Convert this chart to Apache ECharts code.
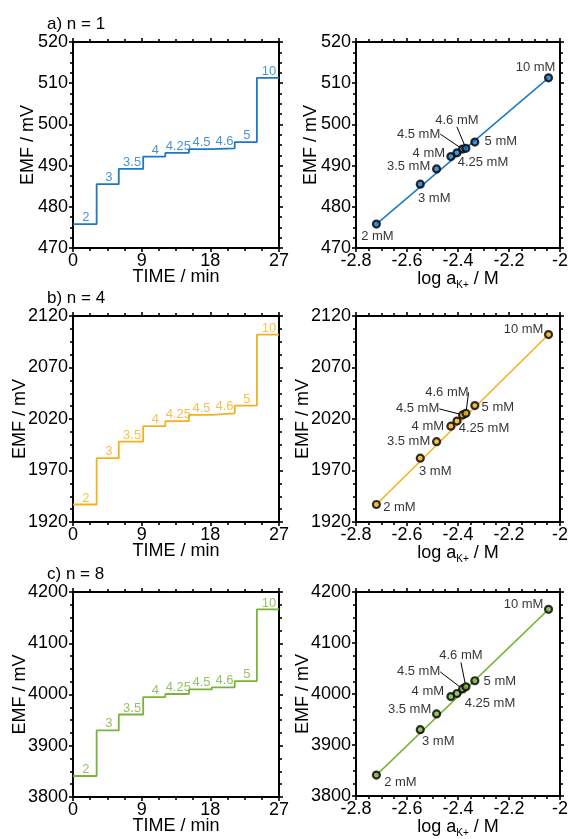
<!DOCTYPE html>
<html><head><meta charset="utf-8">
<script src="https://cdn.jsdelivr.net/npm/echarts@6/dist/echarts.min.js"></script>
<style>html,body{margin:0;padding:0;background:#fff}#c{width:571px;height:839px}</style>
</head><body><div id="c"></div>
<script>
// ---------- data ----------
const concLabels = ['2','3','3.5','4','4.25','4.5','4.6','5','10'];
const stepTimes = [0, 3.1, 6.0, 9.2, 12.1, 15.2, 18.2, 21.2, 24.1, 27];
const logA = [-2.72, -2.548, -2.484, -2.428, -2.404, -2.382, -2.369, -2.334, -2.045];
const emfN1 = [475.8, 485.5, 489.2, 492.2, 493.1, 494.0, 494.2, 495.7, 511.3];
const emfN4 = [1937, 1982, 1998, 2013, 2018, 2024, 2025.5, 2033, 2102];
const emfN8 = [3841, 3930, 3961, 3995, 4001, 4010, 4014, 4026, 4166];
const panelTitles = ['a) n = 1', 'b) n = 4', 'c) n = 8'];
const timeTicks = [0, 9, 18, 27];
const logTicks = [-2.8, -2.6, -2.4, -2.2, -2];
const emfTicksN1 = [470, 480, 490, 500, 510, 520];
const emfTicksN4 = [1920, 1970, 2020, 2070, 2120];
const emfTicksN8 = [3800, 3900, 4000, 4100, 4200];

// ---------- layout / style ----------
const FONT = '"Liberation Sans", Arial, sans-serif';
const colors = ['#1c78c5', '#f3b020', '#7ab33c'];
const TICK = '#000';
const rows = [
  {top: 42, height: 206, emf: emfN1, ticks: emfTicksN1, yNameGap: 36},
  {top: 316, height: 206, emf: emfN4, ticks: emfTicksN4, yNameGap: 44},
  {top: 592, height: 205, emf: emfN8, ticks: emfTicksN8, yNameGap: 44}
];
const labelOffsets = [
  [[1,12],[14,14],[-28,-2],[-22,-3],[26,10],[-44,-15],[-9,-28],[26,-1],[-13,-10]],
  [[23,3],[15,13],[-28,0],[-23,0],[27,7],[-45,-6],[-19,-21],[23,2],[-25,-5]],
  [[24,7],[18,12],[-27,-4],[-23,-5],[33,10],[-44,-17],[-5,-31],[25,1],[-25,-5]]
];

const grids = [], xAxes = [], yAxes = [], series = [], titles = [];

function axisBase(extra) {
  return Object.assign({
    axisLine: {show: true, onZero: false, lineStyle: {color: '#000', width: 2}},
    axisTick: {show: true, inside: false, length: 4, lineStyle: {color: TICK, width: 1.6}},
    minorTick: {show: true, splitNumber: 4, length: 3, lineStyle: {color: TICK, width: 1.6}},
    splitLine: {show: false},
    minorSplitLine: {show: false},
    nameMoveOverlap: false
  }, extra);
}

rows.forEach((r, ri) => {
  const lefts = [73, 356];
  titles.push({text: panelTitles[ri], left: 47, top: r.top - 26, padding: 0,
    textStyle: {fontSize: 17, fontWeight: 'normal', color: '#000', fontFamily: FONT}});
  const yMin = r.ticks[0], yMax = r.ticks[r.ticks.length - 1];
  const yInt = r.ticks[1] - r.ticks[0];
  lefts.forEach((lx, ci) => {
    const gi = grids.length;
    grids.push({left: lx, top: r.top, width: 206, height: r.height});
    const isTime = ci === 0;
    const xt = isTime ? timeTicks : logTicks;
    const xMin = xt[0], xMax = xt[xt.length - 1], xInt = +(xt[1] - xt[0]).toFixed(6);
    const xName = isTime ? 'TIME / min' : '{t|log a}{s|K+}{t| / M}';
    xAxes.push(axisBase({
      type: 'value', gridIndex: gi, position: 'bottom', min: xMin, max: xMax, interval: xInt,
      name: xName, nameLocation: 'middle', nameGap: 20,
      nameTextStyle: {fontSize: 18, color: '#000', fontFamily: FONT,
        rich: {t: {fontSize: 18, color: '#000', fontFamily: FONT},
               s: {fontSize: 10, color: '#000', fontFamily: FONT, padding: [12, 0, 0, 0]}}},
      axisLabel: {show: true, fontSize: 18, color: '#000', fontFamily: FONT, margin: 4,
        formatter: v => String(+v.toFixed(2))}
    }));
    xAxes.push(axisBase({
      type: 'value', gridIndex: gi, position: 'top', min: xMin, max: xMax, interval: xInt,
      axisLabel: {show: false}
    }));
    yAxes.push(axisBase({
      type: 'value', gridIndex: gi, position: 'left', min: yMin, max: yMax, interval: yInt,
      name: 'EMF / mV', nameLocation: 'middle', nameGap: r.yNameGap, nameRotate: 90,
      nameTextStyle: {fontSize: 18, color: '#000', fontFamily: FONT},
      axisLabel: {show: true, fontSize: 18, color: '#000', fontFamily: FONT, margin: 5,
        formatter: v => String(v)}
    }));
    yAxes.push(axisBase({
      type: 'value', gridIndex: gi, position: 'right', min: yMin, max: yMax, interval: yInt,
      axisLabel: {show: false}
    }));
    const xi = gi * 2, yi = gi * 2;
    if (isTime) {
      const stepData = r.emf.map((v, i) => [stepTimes[i], v]);
      stepData.push([stepTimes[stepTimes.length - 1], r.emf[r.emf.length - 1]]);
      series.push({
        type: 'line', xAxisIndex: xi, yAxisIndex: yi, data: stepData, step: 'end',
        symbol: 'none', lineStyle: {color: colors[ri], width: 1.8}, silent: true, z: 3
      });
      series.push({
        type: 'scatter', xAxisIndex: xi, yAxisIndex: yi, symbolSize: 0,
        data: r.emf.map((v, i) => [(stepTimes[i] + stepTimes[i + 1]) / 2 + 0.15, v]),
        label: {show: true, position: 'top', distance: 0, fontSize: 13, color: colors[ri],
          fontFamily: FONT, formatter: p => concLabels[p.dataIndex]},
        silent: true, z: 4
      });
    } else {
      const n = logA.length;
      series.push({
        type: 'line', xAxisIndex: xi, yAxisIndex: yi,
        data: [[logA[0], r.emf[0]], [logA[n - 1], r.emf[n - 1]]],
        symbol: 'none', lineStyle: {color: colors[ri], width: 1.5}, silent: true, z: 2
      });
      const offs = labelOffsets[ri];
      series.push({
        type: 'scatter', xAxisIndex: xi, yAxisIndex: yi, symbol: 'circle', symbolSize: 7,
        itemStyle: {color: colors[ri], borderColor: '#000', borderWidth: 2.2},
        data: logA.map((x, i) => {
          const d = {value: [x, r.emf[i]]};
          if (i === 5 || i === 6) d.labelLine = {show: true, lineStyle: {color: '#000', width: 1}};
          return d;
        }),
        label: {show: true, position: 'inside', fontSize: 13, color: '#000', fontFamily: FONT,
          formatter: p => concLabels[p.dataIndex] + ' mM'},
        labelLine: {show: false, smooth: false, length2: 0},
        labelLayout: p => ({dx: offs[p.dataIndex][0], dy: offs[p.dataIndex][1]}),
        silent: true, z: 5
      });
    }
  });
});

const chart = echarts.init(document.getElementById('c'), null, {renderer: 'canvas'});
chart.setOption({
  animation: false,
  backgroundColor: '#fff',
  title: titles,
  grid: grids,
  xAxis: xAxes,
  yAxis: yAxes,
  series: series
});
</script>
</body></html>
